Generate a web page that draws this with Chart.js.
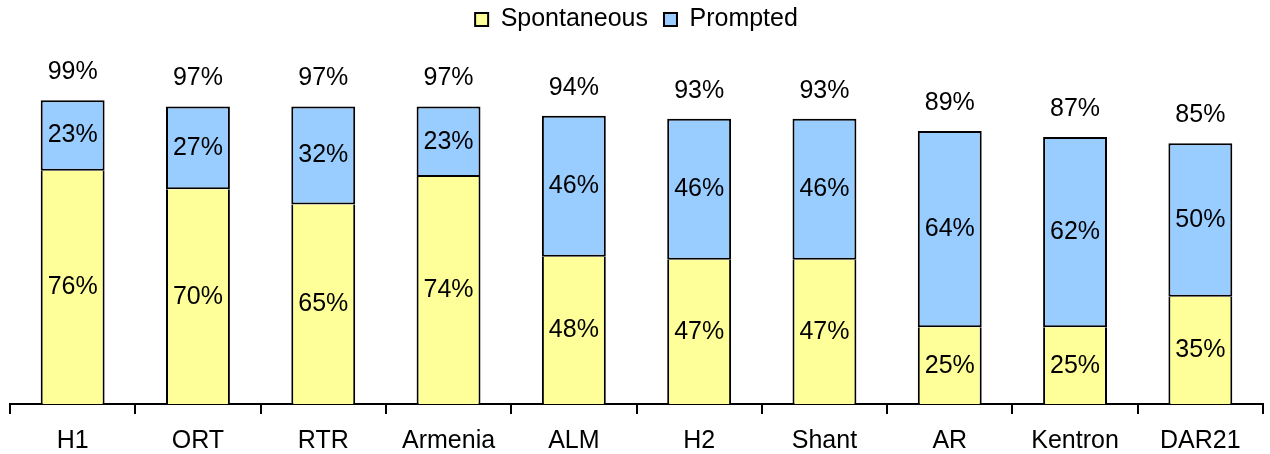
<!DOCTYPE html>
<html>
<head>
<meta charset="utf-8">
<script src="https://cdn.jsdelivr.net/npm/chart.js@4"></script>
<style>
  html, body { margin: 0; padding: 0; background: #fff; }
  #wrap { width: 1270px; height: 454px; }
</style>
</head>
<body>
<div id="wrap"><canvas id="awareChart" width="1270" height="454"></canvas></div>
<script>
// categorías y valores
const channels = ["H1", "ORT", "RTR", "Armenia", "ALM", "H2", "Shant", "AR", "Kentron", "DAR21"];
const spontaneous = [76, 70, 65, 74, 48, 47, 47, 25, 25, 35];
const prompted = [23, 27, 32, 23, 46, 46, 46, 64, 62, 50];
const totals = [99, 97, 97, 97, 94, 93, 93, 89, 87, 85];

const FONT = "'Liberation Sans', Arial, sans-serif";

// Etiquetas: dentro de cada segmento y total arriba
const labelsPlugin = {
  id: "barLabels",
  afterDatasetsDraw(chart) {
    const ctx = chart.ctx;
    ctx.save();
    ctx.font = "25px " + FONT;
    ctx.fillStyle = "#000";
    ctx.textAlign = "center";
    ctx.textBaseline = "middle";
    chart.data.datasets.forEach((ds, i) => {
      chart.getDatasetMeta(i).data.forEach((bar, j) => {
        const mid = (bar.y + bar.base) / 2;
        ctx.fillText(ds.data[j] + "%", bar.x, mid);
      });
    });
    const top = chart.getDatasetMeta(1).data;
    top.forEach((bar, j) => {
      ctx.fillText(totals[j] + "%", bar.x, bar.y - 28);
    });
    ctx.restore();
  }
};

new Chart(document.getElementById("awareChart"), {
  type: "bar",
  data: {
    labels: channels,
    datasets: [
      {
        label: "Spontaneous",
        data: spontaneous,
        backgroundColor: "#FFFF99",
        borderColor: "#000",
        borderWidth: { top: 0, left: 2, right: 2, bottom: 0 },
        borderSkipped: false
      },
      {
        label: "Prompted",
        data: prompted,
        backgroundColor: "#99CCFF",
        borderColor: "#000",
        borderWidth: 2,
        borderSkipped: false
      }
    ]
  },
  options: {
    responsive: false,
    animation: false,
    barPercentage: 0.51,
    categoryPercentage: 1,
    layout: { padding: { left: 10, right: 7, top: -9, bottom: 0 } },
    plugins: {
      legend: {
        position: "top",
        labels: {
          font: { family: FONT, size: 25 },
          color: "#000",
          boxWidth: 13,
          boxHeight: 13,
          padding: 16,
          generateLabels(chart) {
            return chart.data.datasets.map((ds, i) => ({
              text: ds.label,
              fillStyle: ds.backgroundColor,
              strokeStyle: "#000",
              lineWidth: 2,
              datasetIndex: i
            }));
          }
        }
      },
      tooltip: { enabled: false }
    },
    scales: {
      x: {
        stacked: true,
        afterFit(scale) { scale.height = 50; },
        grid: {
          offset: true,
          drawOnChartArea: false,
          drawTicks: true,
          tickLength: 10,
          color: "#000",
          lineWidth: 2
        },
        border: { color: "#000", width: 2 },
        ticks: {
          font: { family: FONT, size: 25 },
          color: "#000",
          padding: 12,
          maxRotation: 0
        }
      },
      y: {
        stacked: true,
        display: false,
        min: 0,
        max: 118
      }
    }
  },
  plugins: [labelsPlugin]
});
</script>
</body>
</html>
